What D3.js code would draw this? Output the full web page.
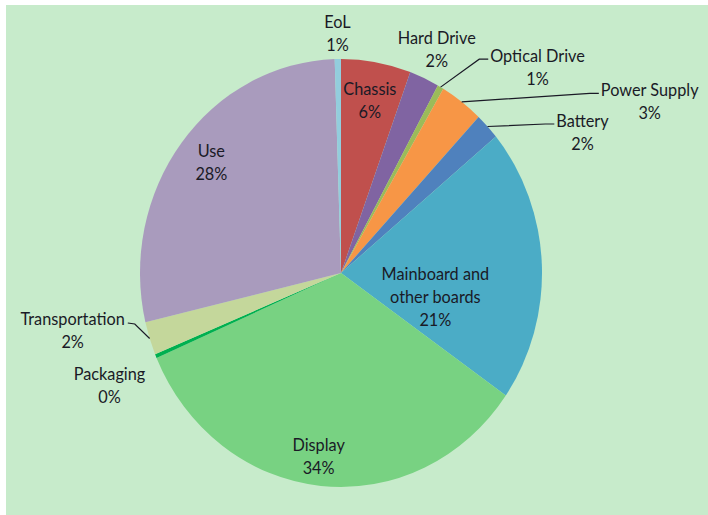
<!DOCTYPE html>
<html>
<head>
<meta charset="utf-8">
<script src="https://cdn.jsdelivr.net/npm/d3@7"></script>
<style>
  html, body { margin: 0; padding: 0; background: #fff; }
  svg text { font-family: Lato, "Open Sans", sans-serif; font-size: 16.3px; fill: #1a1a26; }
</style>
</head>
<body>
<div id="chart"></div>
<script>
/* ── data: share of impact by life-cycle component ── */
const categories = ["Chassis", "Hard Drive", "Optical Drive", "Power Supply", "Battery",
                    "Mainboard and other boards", "Display", "Packaging", "Transportation", "Use", "EoL"];
const shares     = [5.6, 2.4, 0.5, 3.5, 2.0, 20.7, 33.8, 0.3, 2.5, 28.2, 0.5];
const pctLabels  = ["6%", "2%", "1%", "3%", "2%", "21%", "34%", "0%", "2%", "28%", "1%"];

/* ── styles / layout ── */
const colors = ["#c0504d", "#8064a2", "#9bbb59", "#f79646", "#4f81bd",
                "#4bacc6", "#78d282", "#00b050", "#c4d79b", "#a99bbd", "#93cddd"];
// label placement: radial factor k on the ellipse at the slice mid-angle, plus nudge
const labelLayout = [
  { k: 0.82, dx: 0,    dy: 0 },
  { k: 1.15, dx: 0,    dy: 0 },
  { k: 1.11, dx: 86,   dy: 0,  leader: "right" },
  { k: 1.0,  dx: 188,  dy: -1, leader: "right" },
  { k: 1.0,  dx: 95,   dy: 5,  leader: "right" },
  { k: 0.47, dx: 0,    dy: 28 },
  { k: 0.86, dx: -5,   dy: 0 },
  { k: 1.25, dx: 0,    dy: 8 },
  { k: 1.0,  dx: -77,  dy: -8, leader: "left" },
  { k: 0.85, dx: 6,    dy: 0 },
  { k: 1.12, dx: 0,    dy: 0 }
];
const wrap = { "Mainboard and other boards": ["Mainboard and", "other boards"] };

const W = 708, H = 515;
const cx = 341, cy = 273, rx = 201, ry = 214;
const R = 200;
const lineH = 23;

const svg = d3.select("#chart").append("svg")
  .attr("width", W).attr("height", H);

svg.append("rect")
  .attr("x", 6).attr("y", 5).attr("width", W - 6).attr("height", H - 5)
  .attr("fill", "#c7ebcb");

const data = categories.map((c, i) => ({ name: c, value: shares[i], pct: pctLabels[i], color: colors[i], lay: labelLayout[i] }));

const pie = d3.pie().sort(null).value(d => d.value);
const arc = d3.arc().innerRadius(0).outerRadius(R);
const arcs = pie(data);

// pie is slightly taller than wide in the reference -> scale an ordinary pie
svg.append("g")
  .attr("transform", `translate(${cx},${cy}) scale(${rx / R},${ry / R})`)
  .selectAll("path").data(arcs).join("path")
  .attr("d", arc)
  .attr("fill", d => d.data.color);

const polar = (a, k) => [cx + rx * k * Math.sin(a), cy - ry * k * Math.cos(a)];

const labels = svg.append("g");
arcs.forEach(d => {
  const mid = (d.startAngle + d.endAngle) / 2;
  const L = d.data.lay;
  const [px, py] = polar(mid, L.k);
  const x = px + L.dx, y = py + L.dy;
  const lines = (wrap[d.data.name] || [d.data.name]).concat([d.data.pct]);
  const t = labels.append("text").attr("text-anchor", "middle");
  lines.forEach((s, i) => {
    t.append("tspan")
      .attr("x", x)
      .attr("y", y + (i - (lines.length - 1) / 2) * lineH)
      .attr("dominant-baseline", "central")
      .text(s);
  });

  if (L.leader) {
    const first = t.select("tspan").node().getBBox();
    const [sx, sy] = polar(mid, 1.0);
    const ey = y - (lines.length - 1) / 2 * lineH + 4;
    let pts;
    if (L.leader === "right") {
      const ex = first.x - 2;
      pts = [[sx, sy], [ex - 9, ey], [ex, ey]];
    } else {
      const ex = first.x + first.width + 3;
      pts = [[sx, sy], [ex + 7, ey + 1], [ex, ey]];
    }
    labels.append("path")
      .attr("d", d3.line()(pts))
      .attr("fill", "none")
      .attr("stroke", "#1a1a26")
      .attr("stroke-width", 1.2);
  }
});
</script>
</body>
</html>
